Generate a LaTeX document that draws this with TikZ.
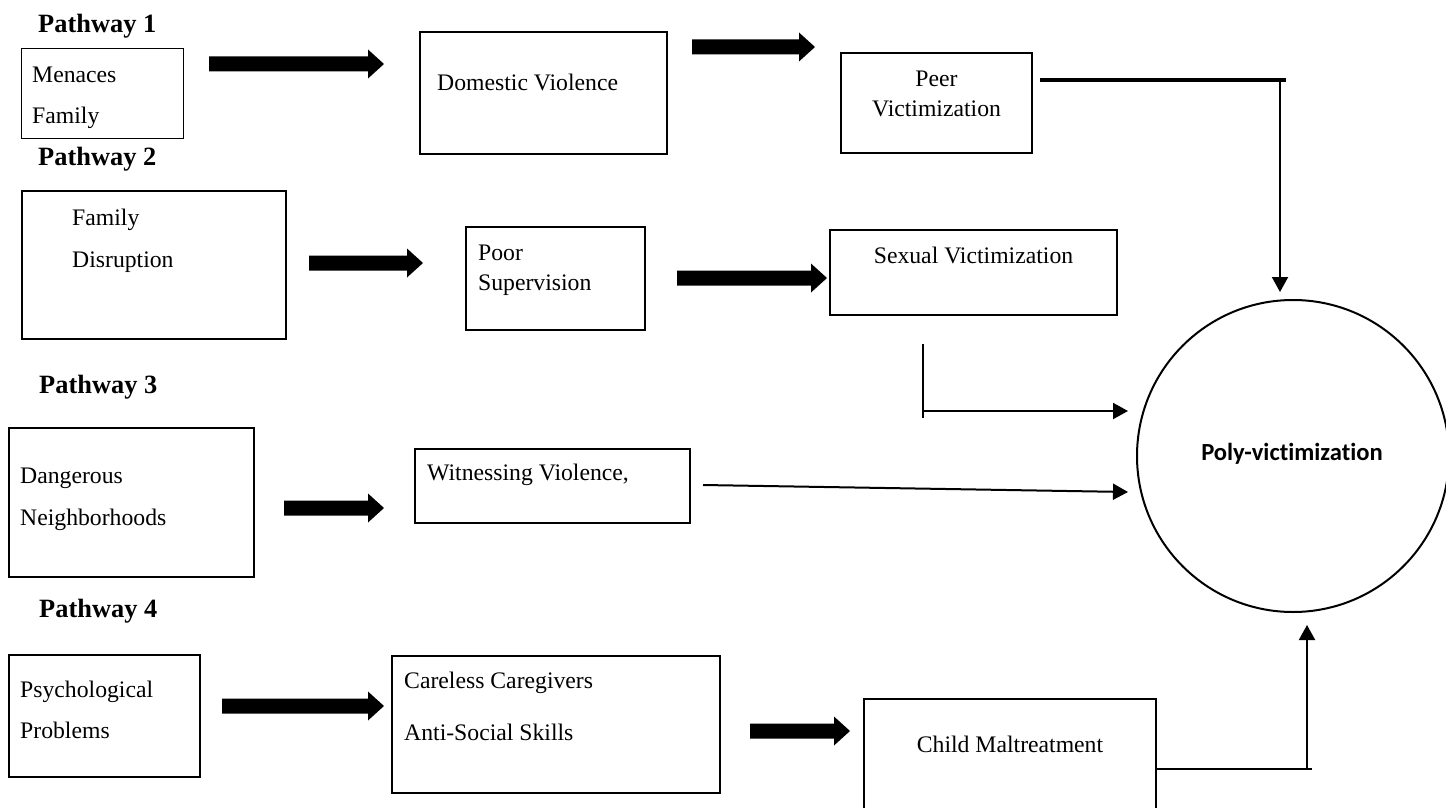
\documentclass[tikz,border=0pt]{standalone}
\usepackage{fontspec}
\setmainfont{Liberation Serif}
\newfontfamily\calibfont[Ligatures=NoCommon]{Carlito}
\usetikzlibrary{arrows.meta}
\tikzset{
  boxnode/.style={draw, line width=2pt, rectangle, inner sep=0pt},
  txt/.style={anchor=base west, inner sep=0pt, font=\fontsize{23.7}{28}\selectfont},
  ctxt/.style={anchor=base, inner sep=0pt, font=\fontsize{23.7}{28}\selectfont},
  pwlabel/.style={anchor=base west, inner sep=0pt, font=\fontsize{26.4}{30}\selectfont\bfseries},
  conn/.style={line width=2pt},
  arr/.style={conn, -{Triangle[length=15pt,width=16pt]}},
  bigarrow/.style={fill=black},
}
\newcommand\bigarr[3]{\fill[bigarrow] (#1,#3-7.5) -- (#2-16,#3-7.5) -- (#2-16,#3-14.5) -- (#2,#3) -- (#2-16,#3+14.5) -- (#2-16,#3+7.5) -- (#1,#3+7.5) -- cycle;}
\begin{document}
\begin{tikzpicture}[x=1pt,y=-1pt]
\useasboundingbox (0,0) rectangle (1446,808);
\clip (0,0) rectangle (1446,808);

% Pathway labels
\node[pwlabel] (pw1) at (38,33) {Pathway 1};
\node[pwlabel] (pw2) at (38,165) {Pathway 2};
\node[pwlabel] (pw3) at (39,393) {Pathway 3};
\node[pwlabel] (pw4) at (39,617) {Pathway 4};

% Boxes
\node[boxnode, line width=1pt, minimum width=162pt, minimum height=89pt] (menaces) at (102,93.5) {};
\node[boxnode, minimum width=247pt, minimum height=122pt] (domestic) at (543.5,93) {};
\node[boxnode, minimum width=191pt, minimum height=100pt] (peer) at (936.5,103) {};
\node[boxnode, minimum width=264pt, minimum height=148pt] (famdis) at (154,265) {};
\node[boxnode, minimum width=179pt, minimum height=103pt] (poor) at (555.5,278.5) {};
\node[boxnode, minimum width=287pt, minimum height=85pt] (sexual) at (973.5,272.5) {};
\node[boxnode, minimum width=245pt, minimum height=149pt] (danger) at (131.5,502.5) {};
\node[boxnode, minimum width=275pt, minimum height=74pt] (witness) at (552.5,486) {};
\node[boxnode, minimum width=191pt, minimum height=122pt] (psych) at (104.5,716) {};
\node[boxnode, minimum width=328pt, minimum height=137pt] (careless) at (556,724.5) {};
\node[boxnode, minimum width=292pt, minimum height=131pt] (child) at (1010,764.5) {};
\node[draw, circle, line width=2pt, minimum size=312pt, inner sep=0pt] (poly) at (1293,456) {};

% Texts
\node[txt] (t1a) at (32,82) {Menaces};
\node[txt] (t1b) at (32,123) {Family};
\node[txt] (t2) at (437,91) {Domestic Violence};
\node[ctxt] (t3a) at (936.5,87) {Peer};
\node[ctxt] (t3b) at (936.5,117) {Victimization};
\node[txt] (t4a) at (72,225) {Family};
\node[txt] (t4b) at (72,267) {Disruption};
\node[txt] (t5a) at (478,260) {Poor};
\node[txt] (t5b) at (478,290) {Supervision};
\node[ctxt] (t6) at (973.5,263) {Sexual Victimization};
\node[txt] (t7a) at (20,483) {Dangerous};
\node[txt] (t7b) at (20,525) {Neighborhoods};
\node[txt] (t8) at (427,480) {Witnessing Violence,};
\node[txt] (t9a) at (20,697) {Psychological};
\node[txt] (t9b) at (20,738) {Problems};
\node[txt] (t10a) at (404,688) {Careless Caregivers};
\node[txt] (t10b) at (404,740) {Anti-Social Skills};
\node[ctxt] (t11) at (1010,752) {Child Maltreatment};
\node[anchor=base, inner sep=0pt, font=\fontsize{24.6}{28}\selectfont\calibfont\bfseries] (t12) at (1292,460) {Poly-victimization};

% Block arrows
\bigarr{209}{384}{64}
\bigarr{692}{815}{47}
\bigarr{309}{423}{263}
\bigarr{677}{827}{278}
\bigarr{284}{384}{508}
\bigarr{222}{384}{706}
\bigarr{750}{850}{731}

% Connectors to Poly-victimization
\coordinate (pA) at (1040,80);
\coordinate (pB) at (1286,80);
\coordinate (pC) at (1280,80);
\coordinate (pD) at (1280,292);
\draw[line width=3.5pt] (pA) -- (pB);
\draw[arr] (pC) -- (pD);

\coordinate (sA) at (923,344);
\coordinate (sB) at (923,418);
\coordinate (sC) at (923,411);
\coordinate (sD) at (1128,411);
\draw[conn] (sA) -- (sB);
\draw[arr] (sC) -- (sD);

\coordinate (wA) at (703,485);
\coordinate (wB) at (1128,492);
\draw[arr] (wA) -- (wB);

\coordinate (cA) at (child.east |- 0,769);
\coordinate (cB) at (1312,769);
\coordinate (cC) at (1307,769);
\coordinate (cD) at (1307,625);
\draw[conn] (cA) -- (cB);
\draw[arr] (cC) -- (cD);
\end{tikzpicture}
\end{document}
